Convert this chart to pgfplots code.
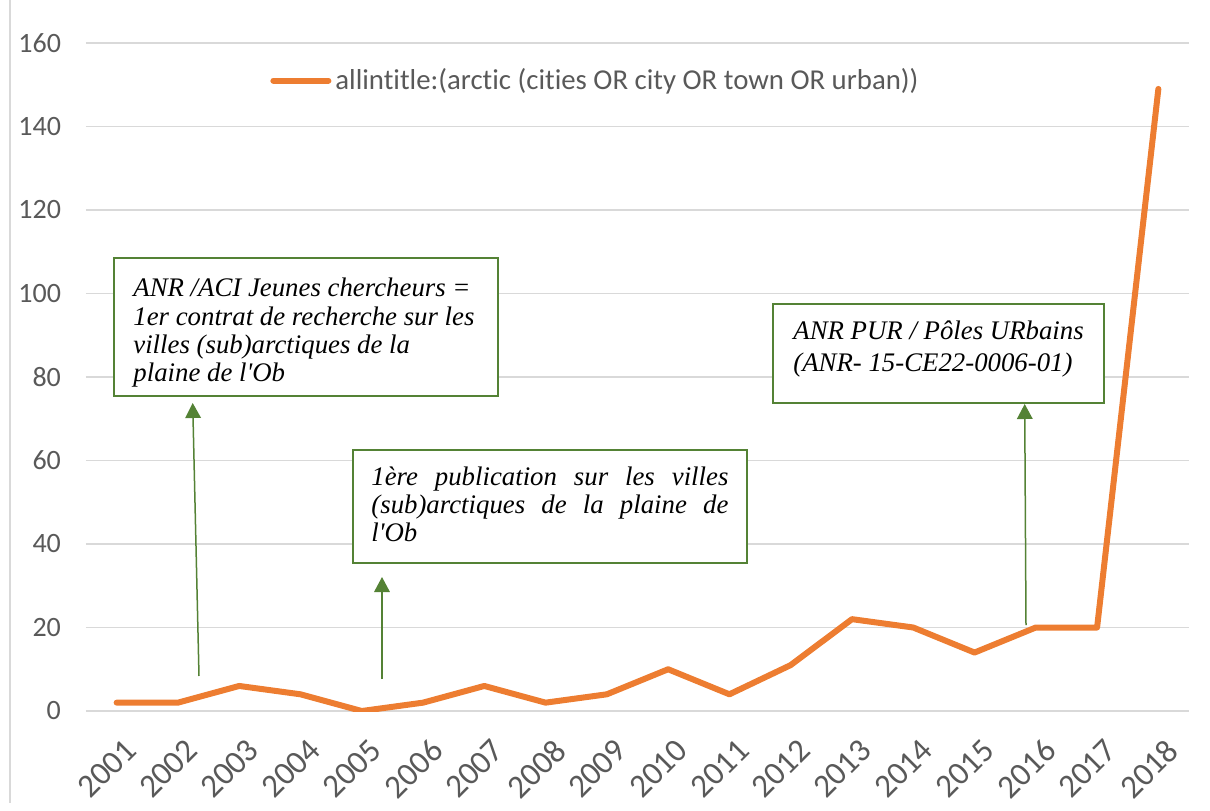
\documentclass[border=0pt]{standalone}
\usepackage{pgfplots}
\pgfplotsset{compat=1.18}
\usepackage{fontspec}
\setmainfont[Ligatures={NoCommon,NoRare,NoDiscretionary}]{Carlito}
\newfontfamily\timesfont{Liberation Serif}
\usetikzlibrary{arrows.meta}
\definecolor{orangeL}{HTML}{ED7D31}
\definecolor{greenA}{HTML}{548235}
\definecolor{gridc}{HTML}{D9D9D9}
\definecolor{tickc}{HTML}{595959}
\newcommand{\ann}{\timesfont\itshape\fontsize{13.4}{16}\selectfont}
\begin{document}
\begin{tikzpicture}
\begin{scope}[x=0.5pt,y=-0.5pt,shift={(-43pt,355.5pt)}]
\path[use as bounding box] (0,0) rectangle (1210,803);
\draw[gridc, line width=0.75pt] (10,0) -- (10,803);
\end{scope}
\begin{axis}[
  at={(0,0)}, anchor=south west,
  scale only axis, width=551.5pt, height=334pt,
  xmin=2000.5, xmax=2018.5, ymin=0, ymax=160,
  xtick={2001,...,2018}, ytick={0,20,...,160},
  axis line style={draw=none},
  major tick length=0pt,
  ymajorgrids, grid style={gridc, line width=0.75pt},
  /pgf/number format/assume math mode=true,
  /pgf/number format/1000 sep={},
  ticklabel style={font=\fontsize{14}{16}\selectfont, text=tickc},
  yticklabel style={xshift=-9pt},
  xticklabel style={font=\fontsize{16.5}{18}\selectfont, rotate=45, anchor=north east, xshift=-3.5pt, yshift=-8pt},
  legend style={at={(axis description cs:0.1668,0.9436)}, anchor=west, draw=none, fill=none,
    inner sep=0pt, font=\fontsize{14.4}{16}\selectfont, text=tickc},
  legend cell align=left,
  legend image code/.code={\draw[#1] (0pt,0pt) -- (27.5pt,0pt);},
]
\addplot[orangeL, line width=3pt, line join=round, line cap=round] coordinates {
(2001,2) (2002,2) (2003,6) (2004,4) (2005,0) (2006,2) (2007,6) (2008,2) (2009,4)
(2010,10) (2011,4) (2012,11) (2013,22) (2014,20) (2015,14) (2016,20) (2017,20) (2018,149)
};
\addlegendentry{allintitle:(arctic (cities OR city OR town OR urban))}
\end{axis}
\begin{scope}[x=0.5pt,y=-0.5pt,shift={(-43pt,355.5pt)}]
\draw[greenA, line width=1pt, fill=white] (114,258) rectangle (498,396);
\draw[greenA, line width=1pt, fill=white] (353,450) rectangle (747,563);
\draw[greenA, line width=1pt, fill=white] (773,304) rectangle (1104,403);
\node[anchor=base west, inner sep=0pt] at (133,296.7) {\ann ANR /ACI Jeunes chercheurs =};
\node[anchor=base west, inner sep=0pt] at (133,325) {\ann 1er contrat de recherche sur les};
\node[anchor=base west, inner sep=0pt] at (133,353.3) {\ann villes (sub)arctiques de la};
\node[anchor=base west, inner sep=0pt] at (133,381.6) {\ann plaine de l'Ob};
\node[anchor=base west, inner sep=0pt] at (371,485.7) {\ann\makebox[178.5pt][s]{1ère publication sur les villes}};
\node[anchor=base west, inner sep=0pt] at (371,513.7) {\ann\makebox[178.5pt][s]{(sub)arctiques de la plaine de}};
\node[anchor=base west, inner sep=0pt] at (371,541.7) {\ann l'Ob};
\node[anchor=base west, inner sep=0pt] at (793,339) {\ann ANR PUR / Pôles URbains};
\node[anchor=base west, inner sep=0pt] at (793,371) {\ann (ANR- 15-CE22-0006-01)};
\draw[greenA, line width=0.75pt, -{Triangle[width=7.8pt,length=7.5pt]}] (199,676) -- (192.7,403);
\draw[greenA, line width=0.75pt, -{Triangle[width=7.8pt,length=7.5pt]}] (382,679) -- (382,577);
\draw[greenA, line width=0.75pt, -{Triangle[width=7.8pt,length=7.5pt]}] (1026,625) -- (1024.7,404);
\end{scope}
\end{tikzpicture}
\end{document}
